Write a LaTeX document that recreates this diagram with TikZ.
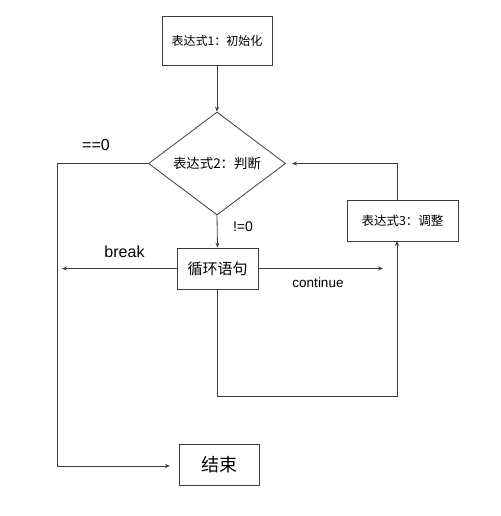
\documentclass[tikz,border=0pt]{standalone}
\usepackage{fontspec}
\setmainfont{Liberation Sans}
\newfontfamily\cjk{Noto Sans CJK SC}
\usetikzlibrary{shapes.geometric,arrows.meta}
\definecolor{ln}{HTML}{3C3C3C}
\tikzset{
  box/.style={draw=ln,line width=0.8pt,rectangle,inner sep=0pt,font=\cjk},
  cond/.style={draw=ln,line width=0.8pt,diamond,shape aspect=1.33,inner sep=0pt,minimum width=137pt,minimum height=103pt,font=\cjk\fontsize{13.4}{15}\selectfont},
  conn/.style={draw=ln,line width=0.8pt},
  arr/.style={conn,-{Stealth[length=5pt,width=4pt]}},
  lbl/.style={inner sep=0pt,text=black}
}
\begin{document}
\begin{tikzpicture}[x=1pt,y=-1pt]
\useasboundingbox (0,0) rectangle (500,516);
\node[box,minimum width=110pt,minimum height=49pt,font=\cjk\fontsize{12}{14}\selectfont] (init) at (217,40.5) {表达式1：初始化};
\node[cond] (cd) at (217,163.5) {表达式2：判断};
\node[box,minimum width=81pt,minimum height=41pt,font=\cjk\fontsize{15}{18}\selectfont] (loop) at (217.5,268.5) {循环语句};
\node[box,minimum width=111pt,minimum height=41pt,font=\cjk\fontsize{12.5}{15}\selectfont] (adj) at (402.5,220.5) {表达式3：调整};
\node[box,minimum width=80pt,minimum height=41pt,font=\cjk\fontsize{18}{21}\selectfont] (end) at (219,464.5) {结束};

\coordinate (bl) at (62,268.5);
\coordinate (cr) at (383,268.5);
\coordinate (l1) at (57,163.5);
\coordinate (l2) at (57,466);
\coordinate (e1) at (170,466);
\coordinate (b1) at (217.5,396);
\coordinate (b2) at (397,396);
\coordinate (a1) at (397,241);
\coordinate (a0) at (397,200);
\coordinate (t1) at (397,163.5);
\coordinate (t2) at (292,163.5);

\draw[arr] (init.south) -- (cd.north);
\draw[arr] (cd.west) -- (l1) -- (l2) -- (e1);
\draw[arr] (cd.south) -- (loop.north);
\draw[arr] (loop.west) -- (bl);
\draw[arr] (loop.east) -- (cr);
\draw[arr] (loop.south) -- (b1) -- (b2) -- (a1);
\draw[arr] (a0) -- (t1) -- (t2);

\node[lbl,font=\fontsize{16}{19}\selectfont] (eq) at (96,145) {==0};
\node[lbl,font=\fontsize{14}{17}\selectfont] (ne) at (243,227) {!=0};
\node[lbl,font=\fontsize{16}{19}\selectfont] (brk) at (124.5,252) {break};
\node[lbl,font=\fontsize{13.5}{16}\selectfont] (cont) at (318,283) {continue};
\end{tikzpicture}
\end{document}
